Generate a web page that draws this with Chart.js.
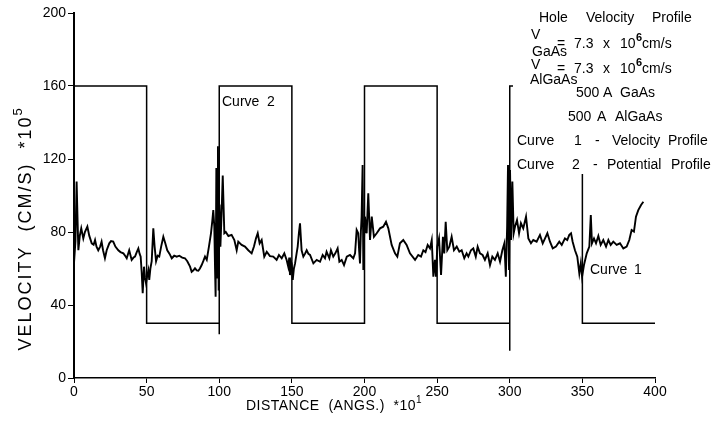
<!DOCTYPE html>
<html>
<head>
<meta charset="utf-8">
<script src="https://cdn.jsdelivr.net/npm/chart.js@4.4.0/dist/chart.umd.min.js"></script>
<style>
  body { margin: 0; background: #fff; }
</style>
</head>
<body>
<canvas id="chart" width="714" height="432"></canvas>
<script>
// axis ticks
const distanceTicks = [0, 50, 100, 150, 200, 250, 300, 350, 400];
const velocityTicks = [0, 40, 80, 120, 160, 200];

// Curve 1 - velocity profile (distance *10 A, velocity *1e5 cm/s)
const velDistance = [
  0, 1, 1.8, 2.5, 3, 4, 5, 6.4, 7.5, 9.2, 10.5, 12.2, 13.5, 14.5, 15.5, 16.7, 18, 19, 20, 21.3,
  22.5, 24.3, 25.5, 27, 28.5, 30.5, 32, 34, 35.2, 36.3, 37.2, 38, 39.7, 41, 42, 43.2, 44.3, 45.2, 45.9, 46.6,
  47.3, 48.2, 48.9, 49.6, 50.4, 51.2, 51.8, 52.6, 53.5, 54.6, 55.5, 56.5, 57.6, 58.7, 60, 61.5, 62.8, 64.2, 65.8, 67.3,
  69, 70.7, 72.5, 74.5, 76.4, 78, 79.9, 81, 82.2, 83.3, 84.5, 85.6, 86.7, 87.9, 89, 90.2, 91.4, 92.9, 94.3, 95.2,
  95.9, 96.6, 97.1, 97.5, 98, 98.6, 99.1, 99.6, 100.2, 100.8, 101.6, 102.4, 103.5, 104.5, 106.3, 108.5, 110.4, 112, 113.1, 115.4,
  117.7, 120, 122.3, 123.9, 125.3, 126.5, 127.8, 129.2, 131, 132.7, 134.9, 137.2, 139.5, 141.1, 143, 144.8, 146.4, 147.5, 148.2, 148.7,
  149.3, 149.9, 150.6, 151.4, 152.2, 153.2, 154, 154.9, 155.6, 156.7, 157.9, 159, 160.2, 161.4, 162.5, 164.8, 167.1, 169.4, 171.2, 172.8,
  173.9, 175.8, 176.9, 178.5, 179.9, 181.5, 182.7, 184.3, 185.9, 187.8, 190, 192.3, 193.5, 194.6, 195.7, 196.3, 196.9, 197.5, 198, 198.7,
  199.2, 199.8, 200.3, 201.5, 202.6, 203.8, 205, 206.5, 208.4, 210.7, 212.9, 214.8, 216.4, 218.7, 221, 222.6, 224.4, 226.7, 229, 231.3,
  234.8, 237, 238.9, 240.5, 242, 243.5, 245.1, 246.3, 247.4, 248.5, 249.2, 250.1, 251.3, 252.7, 254, 254.9, 255.9, 257, 258.4, 260,
  261.6, 263.5, 265.3, 266.9, 268.7, 270.3, 271.5, 273.3, 274.9, 276.6, 277.9, 279.5, 281.3, 282.9, 284.8, 286.4, 288, 289.8, 291.7, 293.3,
  294.9, 296.3, 297.3, 298.2, 298.8, 299.5, 300.2, 300.9, 301.8, 302.7, 303.6, 305, 306.4, 307.7, 309.3, 311.2, 312.8, 314.6, 316.2, 318.5,
  320.8, 322.7, 324.3, 325.9, 327.7, 329.6, 331.8, 334.1, 335.8, 338, 339.6, 341, 342.2, 343.3, 344.9, 346.5, 347.9, 348.9, 349.8, 351.1,
  353, 354.8, 355.8, 356.6, 358, 359.4, 361, 362.6, 364.4, 366.3, 367.9, 369.5, 371.3, 373.6, 375.9, 378.2, 380.5, 382.3, 383.9, 385.5,
  386.9, 388.5, 390.4, 392
];
const velocity = [
  63, 75, 107.6, 85, 70, 78, 82, 76.5, 80, 83, 78, 73.8, 73, 75.6, 72, 70, 72, 74.7, 70, 65.6,
  70, 73.8, 75, 74.7, 72, 70, 69, 68.3, 67, 65.6, 68, 70, 64.7, 66, 66.5, 69, 71, 68, 66.5, 58,
  46.4, 61, 55, 51.9, 56, 59, 53.7, 60, 64, 82, 72, 64, 67, 66.5, 72, 77.4, 74, 70, 68, 65.6,
  67, 66.5, 67, 66, 65.6, 64, 61, 58.2, 59, 60.1, 59, 58.8, 60, 61.9, 64, 66.5, 64.7, 72, 79.3, 86,
  92, 82.9, 60, 44.5, 115, 55, 127, 48, 95, 72, 90, 111, 79.3, 80, 77.8, 78.4, 75.6, 70, 74.7, 72.9,
  72, 70, 68.3, 72, 76.5, 79.3, 73.8, 75.6, 66.5, 69.2, 66.8, 66.5, 64.7, 67.4, 65.6, 68.3, 64.7, 61, 66, 56.4,
  64, 62.8, 53.7, 60, 62.8, 68, 72, 80, 84.8, 70, 66.5, 68, 70, 68, 67.4, 62.8, 64.7, 63.7, 67.4, 65.6,
  69.2, 65.6, 70, 66.5, 68.3, 71, 63.7, 64.7, 61.9, 66.5, 67.4, 65.6, 68.3, 81.1, 79.3, 70, 62.8, 80, 88.4, 116.7,
  59.2, 80, 88.4, 79.3, 101.2, 75.6, 88.4, 77.4, 79.3, 82, 82.9, 85.6, 82, 72.9, 68.3, 66.5, 73.8, 75.6, 72.9, 68.3,
  64.7, 67.4, 66.5, 70, 69, 72.9, 71, 75.6, 55.5, 64.7, 55.5, 72, 76.5, 56.4, 77.4, 68.3, 85.6, 70, 72, 77.4,
  70, 72, 69.2, 70, 65.6, 68.3, 66.5, 70, 71, 66.5, 72, 68.3, 67.4, 64.7, 68.3, 61.9, 66.5, 64.7, 68.3, 63.7,
  70, 73.8, 55.5, 82.9, 116.7, 59.2, 114, 75.6, 107.6, 79.3, 82.9, 86.6, 79.3, 84.8, 82, 88.4, 76.5, 73.8, 75.6, 74.7,
  78.4, 73.8, 76.5, 79.3, 74.7, 71, 72, 74.7, 72.9, 76.5, 75.6, 78.4, 79.3, 74.7, 70, 66.5, 57.3, 62.8, 55.5, 61.9,
  68.3, 72, 89.3, 73.8, 76.5, 73.8, 77.8, 72.9, 75.6, 72, 75.6, 72.9, 74.7, 72.9, 73.8, 71, 72, 75.6, 81.1, 80.2,
  88.4, 92, 94.8, 96.6
];

// Curve 2 - potential profile (square wave, with the switching spikes)
const potDistance = [0, 50, 50, 100, 100, 100, 150, 150, 200, 200, 250, 250, 300, 300, 300, 350, 350, 400];
const potential   = [160, 160, 30, 30, 24, 160, 160, 30, 30, 160, 160, 30, 30, 15, 160, 160, 30, 30];

const FONT = '"Liberation Sans", Arial, Helvetica, sans-serif';

function pts(xs, ys) {
  return xs.map((x, i) => ({ x: x, y: ys[i] }));
}

// draws pieces of text one after the other; a piece may be raised or lowered
function runs(ctx, x, y, parts) {
  parts.forEach(p => {
    ctx.font = (p.bold ? 'bold ' : '') + (p.size || 14) + 'px ' + FONT;
    ctx.fillText(p.t, x, y + (p.dy || 0));
    x += ctx.measureText(p.t).width;
  });
}

function words(ctx, y, list) {
  ctx.font = '14px ' + FONT;
  list.forEach(w => ctx.fillText(w[0], w[1], y));
}

const notes = {
  id: 'notes',
  afterDatasetsDraw(chart) {
    const ctx = chart.ctx;
    ctx.save();
    // the key block sits on a white card that hides the curve behind it
    ctx.fillStyle = '#fff';
    ctx.fillRect(513, 0, 201, 174);

    ctx.fillStyle = '#000';
    ctx.textBaseline = 'middle';
    ctx.textAlign = 'left';

    words(ctx, 18, [['Hole', 539], ['Velocity', 586], ['Profile', 652]]);

    words(ctx, 35, [['V', 531]]);
    words(ctx, 52, [['GaAs', 532]]);
    words(ctx, 44, [['=', 557], ['7.3', 574], ['x', 603], ['10', 620]]);
    runs(ctx, 636, 44, [{ t: '6', size: 11, dy: -6, bold: true }, { t: 'cm/s' }]);

    words(ctx, 65, [['V', 531]]);
    words(ctx, 80, [['AlGaAs', 530]]);
    words(ctx, 69, [['=', 557], ['7.3', 574], ['x', 603], ['10', 620]]);
    runs(ctx, 636, 69, [{ t: '6', size: 11, dy: -6, bold: true }, { t: 'cm/s' }]);

    words(ctx, 93, [['500', 576], ['A', 603], ['GaAs', 620]]);
    words(ctx, 117, [['500', 568], ['A', 597], ['AlGaAs', 615]]);
    words(ctx, 141, [['Curve', 517], ['1', 574], ['-', 595], ['Velocity', 612], ['Profile', 668]]);
    words(ctx, 165, [['Curve', 517], ['2', 572], ['-', 593], ['Potential', 607], ['Profile', 671]]);

    words(ctx, 102, [['Curve', 222], ['2', 267]]);
    words(ctx, 270, [['Curve', 590], ['1', 634]]);

    // x axis title
    ctx.letterSpacing = '0.5px';
    ctx.font = '14px ' + FONT;
    let xt = 'DISTANCE  (ANGS.)  *10';
    let w = ctx.measureText(xt).width + 6;
    runs(ctx, 334 - w / 2, 406, [{ t: xt }, { t: '1', size: 10, dy: -6 }]);

    // y axis title, turned on its side
    ctx.translate(26, 228);
    ctx.rotate(-Math.PI / 2);
    ctx.letterSpacing = '2px';
    let yt = 'VELOCITY  (CM/S)  *10';
    ctx.font = '18px ' + FONT;
    w = ctx.measureText(yt).width + 10;
    runs(ctx, -w / 2, 0, [{ t: yt, size: 18 }, { t: '5', size: 13, dy: -8 }]);
    ctx.restore();
  }
};

new Chart(document.getElementById('chart'), {
  type: 'line',
  data: {
    datasets: [
      {
        label: 'Curve 1',
        data: pts(velDistance, velocity),
        borderColor: '#000',
        borderWidth: 1.9,
        pointRadius: 0,
        tension: 0
      },
      {
        label: 'Curve 2',
        data: pts(potDistance, potential),
        borderColor: '#000',
        borderWidth: 1.5,
        pointRadius: 0,
        tension: 0
      }
    ]
  },
  options: {
    responsive: false,
    animation: false,
    layout: { padding: { left: 0, top: 13, right: 59, bottom: 0 } },
    plugins: {
      legend: { display: false },
      tooltip: { enabled: false }
    },
    scales: {
      x: {
        type: 'linear',
        min: 0,
        max: 400,
        afterBuildTicks: s => { s.ticks = distanceTicks.map(v => ({ value: v })); },
        afterFit: s => { s.height = 54; },
        ticks: { color: '#000', font: { family: FONT, size: 14 }, padding: 1, maxRotation: 0 },
        grid: { drawOnChartArea: false, tickLength: 5, color: '#000', lineWidth: 1 },
        border: { color: '#000', width: 1.5 }
      },
      y: {
        min: 0,
        max: 200,
        afterBuildTicks: s => { s.ticks = velocityTicks.map(v => ({ value: v })); },
        afterFit: s => { s.width = 74; },
        ticks: { color: '#000', font: { family: FONT, size: 14 }, padding: 2 },
        grid: { drawOnChartArea: false, tickLength: 6, color: '#000', lineWidth: 1 },
        border: { color: '#000', width: 2 }
      }
    }
  },
  plugins: [notes]
});
</script>
</body>
</html>
